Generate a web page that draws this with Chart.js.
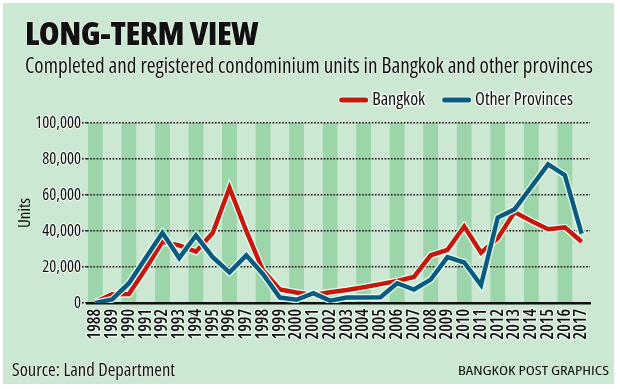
<!DOCTYPE html>
<html>
<head>
<meta charset="utf-8">
<script src="https://cdn.jsdelivr.net/npm/chart.js@4.4.1/dist/chart.umd.min.js"></script>
<style>
  html, body { margin: 0; padding: 0; background: #fff; }
  #frame { position: absolute; left: 3px; top: 3px; width: 611px; height: 381px; background: #cce7d2; }
  #myChart { position: absolute; left: 0; top: 0; }
  .txt {
    position: absolute; margin: 0; line-height: 1; white-space: nowrap; color: #111;
    font-family: "Open Sans", sans-serif;
    font-stretch: 75%;
    transform-origin: 0 0;
    text-shadow: 0 0 2px #fff, 0 0 1px #fff;
  }
  #title { left: 25px; top: 17px; font-size: 32px; font-weight: 800; letter-spacing: -0.5px; }
  #subtitle { left: 25px; top: 55px; font-size: 21px; }
  #source { left: 12px; top: 360px; font-size: 18px; }
  #credit { left: 458px; top: 365px; font-size: 12.5px; text-shadow: none; }
</style>
</head>
<body>
<div id="frame"></div>
<canvas id="myChart" width="620" height="389"></canvas>
<div class="txt" id="title" data-w="233">LONG-TERM VIEW</div>
<div class="txt" id="subtitle" data-w="568">Completed and registered condominium units in Bangkok and other provinces</div>
<div class="txt" id="source" data-w="163">Source: Land Department</div>
<div class="txt" id="credit" data-w="151">BANGKOK POST GRAPHICS</div>
<script>
const years = ['1988', '1989', '1990', '1991', '1992', '1993', '1994', '1995', '1996', '1997',
    '1998', '1999', '2000', '2001', '2002', '2003', '2004', '2005', '2006', '2007',
    '2008', '2009', '2010', '2011', '2012', '2013', '2014', '2015', '2016', '2017'];

const bangkok = [500, 4800, 5000, 19000, 34000, 32000, 28500, 39000, 64000, 40000,
    18000, 7500, 5800, 4500, 6000, 7200, 8800, 10500, 12200, 14500,
    26500, 29500, 42500, 28000, 36000, 50500, 45500, 41000, 42000, 34000];

const provinces = [0, 2000, 11000, 25000, 39000, 25000, 37500, 25500, 17000, 26500,
    16000, 3000, 1800, 5500, 1300, 3000, 3000, 3200, 11000, 7500,
    13000, 25500, 22500, 10000, 47500, 52000, 64500, 77000, 71000, 38500];

const yTicks = [0, 20000, 40000, 60000, 80000, 100000];

const RED = '#c8180d';
const BLUE = '#0c5b7e';
const HALO = '#e4fff4';
const FONT = '"Open Sans", sans-serif';

// squeeze the html texts to the widths in the picture
document.querySelectorAll('.txt').forEach(el => {
    const w = el.getBoundingClientRect().width;
    el.style.transform = 'scaleX(' + (el.dataset.w / w) + ')';
});

// green column behind every other year
const stripes = {
    id: 'stripes',
    beforeDraw(chart) {
        const {ctx, chartArea} = chart;
        const x = chart.scales.x;
        const step = x.getPixelForValue(1) - x.getPixelForValue(0);
        const w = step * 0.88;
        ctx.save();
        ctx.fillStyle = '#9dd5aa';
        for (let i = 0; i < years.length; i += 2) {
            const cx = x.getPixelForValue(i);
            ctx.fillRect(cx - w / 2, chartArea.top, w, chartArea.bottom - chartArea.top);
        }
        ctx.restore();
    }
};

// legend with short thick lines, right aligned
const lineLegend = {
    id: 'lineLegend',
    afterDraw(chart, args, opts) {
        const ctx = chart.ctx;
        const items = chart.data.datasets.filter(d => !d.halo);
        ctx.save();
        ctx.font = opts.font;
        ctx.textBaseline = 'middle';
        let right = opts.right;
        for (let i = items.length - 1; i >= 0; i--) {
            const d = items[i];
            const tw = ctx.measureText(d.label).width;
            const tx = right - tw;
            ctx.lineWidth = 2.5;
            ctx.strokeStyle = 'rgba(255,255,255,0.8)';
            ctx.strokeText(d.label, tx, opts.y);
            ctx.fillStyle = '#111';
            ctx.fillText(d.label, tx, opts.y);
            const x2 = tx - 6.5;
            const x1 = x2 - 24;
            ctx.lineCap = 'round';
            ctx.beginPath();
            ctx.moveTo(x1, opts.y);
            ctx.lineTo(x2, opts.y);
            ctx.strokeStyle = HALO;
            ctx.lineWidth = 7;
            ctx.stroke();
            ctx.strokeStyle = d.borderColor;
            ctx.lineWidth = 5;
            ctx.stroke();
            right = x1 - 19.5;
        }
        ctx.restore();
    }
};

const ctx = document.getElementById('myChart');

new Chart(ctx, {
    type: 'line',
    data: {
        labels: years,
        datasets: [
            { label: 'Bangkok', data: bangkok, borderColor: RED, borderWidth: 4.5, order: 3 },
            { label: 'Other Provinces', data: provinces, borderColor: BLUE, borderWidth: 4.5, order: 1 },
            { label: '', data: bangkok, borderColor: HALO, borderWidth: 7, order: 4, halo: true },
            { label: '', data: provinces, borderColor: HALO, borderWidth: 7, order: 2, halo: true }
        ]
    },
    options: {
        responsive: false,
        animation: false,
        devicePixelRatio: 1,
        layout: { padding: { left: 12, right: 30, top: 123, bottom: 38 } },
        elements: {
            point: { radius: 0, hoverRadius: 0 },
            line: { tension: 0, borderJoinStyle: 'miter' }
        },
        plugins: {
            legend: { display: false },
            tooltip: { enabled: false },
            lineLegend: { font: 'condensed 18px ' + FONT, right: 573, y: 100 }
        },
        scales: {
            x: {
                offset: true,
                grid: { display: false, drawTicks: false },
                border: { color: '#111', width: 2.5 },
                ticks: {
                    autoSkip: false,
                    maxRotation: 90,
                    minRotation: 90,
                    padding: 6,
                    color: '#111',
                    font: { family: FONT, size: 17, weight: 'condensed 600' },
                    textStrokeColor: 'rgba(255,255,255,0.7)',
                    textStrokeWidth: 2
                },
                afterFit: (scale) => { scale.height = 48; }
            },
            y: {
                min: 0,
                max: 100000,
                afterBuildTicks: (scale) => { scale.ticks = yTicks.map(v => ({ value: v })); },
                grid: {
                    color: '#111',
                    lineWidth: 1.4,
                    tickLength: 5,
                    tickColor: '#111',
                    tickBorderDash: [1.6, 1.6]
                },
                border: { display: false, dash: [1.6, 1.6] },
                ticks: {
                    padding: 1,
                    color: '#111',
                    font: { family: FONT, size: 16.5, weight: 'condensed normal' },
                    textStrokeColor: 'rgba(255,255,255,0.7)',
                    textStrokeWidth: 2,
                    callback: (v) => v.toLocaleString('en-US')
                },
                title: {
                    display: true,
                    text: 'Units',
                    color: '#111',
                    font: { family: FONT, size: 17, weight: 'condensed normal' },
                    padding: { top: 3, bottom: 0 }
                },
                afterFit: (scale) => { scale.width = 75; }
            }
        }
    },
    plugins: [stripes, lineLegend]
});
</script>
</body>
</html>
